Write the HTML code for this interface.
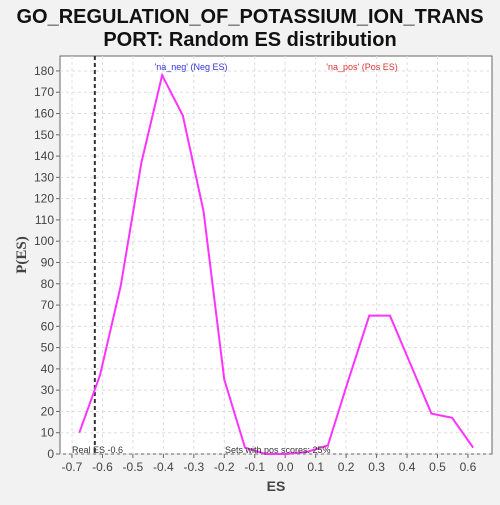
<!DOCTYPE html>
<html><head><meta charset="utf-8"><style>
body{margin:0;background:#f2f2f2;width:500px;height:500px;overflow:hidden;font-family:"Liberation Sans","DejaVu Sans",sans-serif}
</style></head><body>
<svg id="c" width="500" height="500" xmlns="http://www.w3.org/2000/svg">
<text x="250" y="23" text-anchor="middle" font-size="20" font-weight="bold" fill="#111">GO_REGULATION_OF_POTASSIUM_ION_TRANS</text>
<text x="250" y="46" text-anchor="middle" font-size="20" font-weight="bold" fill="#111">PORT: Random ES distribution</text>
<rect x="60" y="56" width="432" height="398" fill="#fff" stroke="#666"/>
<g id="grid"></g><g id="axes"></g><g id="series"></g>
<text x="276" y="491" text-anchor="middle" font-size="14" font-weight="bold" fill="#444">ES</text>
<text x="26" y="255" text-anchor="middle" font-size="15" font-weight="bold" fill="#444" font-family="Liberation Serif, serif" transform="rotate(-90 26 255)">P(ES)</text>
<text x="191" y="70" text-anchor="middle" font-size="9" fill="#3333dd">'na_neg' (Neg ES)</text>
<text x="362" y="70" text-anchor="middle" font-size="9" fill="#dd3333">'na_pos' (Pos ES)</text>
<text x="72" y="453" font-size="9" fill="#333">Real ES -0.6</text>
<text x="225" y="453" font-size="9" fill="#333">Sets with pos scores: 25%</text>
</svg>
<script>
const xs=[-0.676,-0.608,-0.540,-0.472,-0.404,-0.336,-0.268,-0.200,-0.132,-0.064,0.004,0.072,0.140,0.208,0.276,0.344,0.412,0.480,0.548,0.617];
const ys=[10,37,79,137,178,159,114,35,3,0,0,1,4,35,65,65,42,19,17,3];
const xTicks=[-0.7,-0.6,-0.5,-0.4,-0.3,-0.2,-0.1,0.0,0.1,0.2,0.3,0.4,0.5,0.6];
const yTicks=[0,10,20,30,40,50,60,70,80,90,100,110,120,130,140,150,160,170,180];
const realES=-0.625;
const NS="http://www.w3.org/2000/svg";
const X=v=>285.2+v*304.6, Y=v=>454-v*2.128;
function mk(p,t,a){const e=document.createElementNS(NS,t);for(const k in a)e.setAttribute(k,a[k]);p.appendChild(e);return e;}
const g=document.getElementById('grid'),ax=document.getElementById('axes'),s=document.getElementById('series');
xTicks.forEach(v=>{
 const l=mk(g,'line',{x1:X(v),x2:X(v),y1:56,y2:454,stroke:'#ddd','stroke-dasharray':'3,3'});
 
 
 const tk=mk(ax,'line',{x1:X(v),x2:X(v),y1:454,y2:458,stroke:'#666'});
 
 
 const t=mk(ax,'text',{x:X(v),y:471,'text-anchor':'middle','font-size':12,fill:'#444'});t.textContent=v.toFixed(1);
 
 
});
yTicks.forEach(v=>{
 const l=mk(g,'line',{x1:60,x2:492,y1:Y(v),y2:Y(v),stroke:'#ddd','stroke-dasharray':'3,3'});
 
 
 const tk=mk(ax,'line',{x1:56,x2:60,y1:Y(v),y2:Y(v),stroke:'#666'});
 
 
 const t=mk(ax,'text',{x:54,y:Y(v)+4,'text-anchor':'end','font-size':12,fill:'#444'});t.textContent=v;
 
 
});
const rl=mk(s,'line',{x1:X(realES),x2:X(realES),y1:56,y2:454,stroke:'#333','stroke-width':2,'stroke-dasharray':'4,3'});


const pl=mk(s,'polyline',{points:xs.map((x,i)=>X(x)+','+Y(ys[i])).join(' '),fill:'none',stroke:'#ff33ff','stroke-width':2});


</script>
</body></html>
